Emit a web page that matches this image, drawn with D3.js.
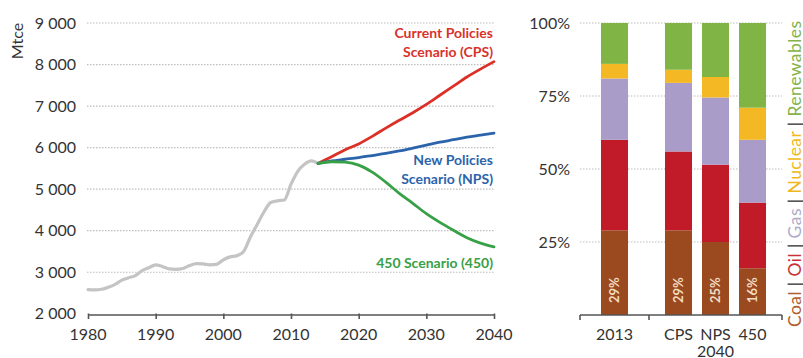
<!DOCTYPE html>
<html>
<head>
<meta charset="utf-8">
<script src="https://cdn.jsdelivr.net/npm/d3@7/dist/d3.min.js"></script>
<style>
  html, body { margin: 0; padding: 0; background: #fff; }
  svg { display: block; font-family: Lato, "Open Sans", sans-serif; }
</style>
</head>
<body>
<svg id="chart" width="803" height="358"></svg>
<script>
// ---- Coal demand (Mtce), history and scenarios ----
const histYears = [1980,1981,1982,1983,1984,1985,1986,1987,1988,1989,1990,1991,1992,1993,1994,1995,1996,1997,1998,1999,2000,2001,2002,2003,2004,2005,2006,2007,2008,2009,2010,2011,2012,2013,2014];
const histValues = [2580,2575,2590,2640,2710,2810,2870,2920,3040,3110,3180,3140,3080,3070,3090,3160,3210,3200,3180,3190,3300,3370,3400,3500,3850,4150,4450,4680,4720,4740,5120,5430,5600,5680,5620];

const projYears = [2014,2016,2018,2020,2022,2024,2026,2028,2030,2032,2034,2036,2038,2040];
const cpsValues = [5620,5780,5950,6090,6270,6470,6660,6840,7040,7260,7480,7700,7890,8070];
const npsValues = [5620,5680,5720,5760,5810,5860,5920,5990,6060,6130,6190,6250,6300,6350];
const s450Values = [5620,5660,5650,5580,5410,5170,4900,4660,4410,4200,4010,3830,3700,3610];

const yTicksLeft = [2000,3000,4000,5000,6000,7000,8000,9000];
const xTicksLeft = [1980,1990,2000,2010,2020,2030,2040];

// ---- Fuel shares of primary energy demand ----
const fuels = ["Coal","Oil","Gas","Nuclear","Renewables"];
const periods = ["2013","2040"];
const cases2013 = ["2013"];
const cases2040 = ["CPS","NPS","450"];
const coalShare = [0.29, 0.29, 0.25, 0.16];
const oilShare  = [0.31, 0.27, 0.265, 0.225];
const gasShare  = [0.21, 0.235, 0.23, 0.215];
const nucShare  = [0.05, 0.045, 0.07, 0.11];
const renShare  = [0.14, 0.16, 0.185, 0.29];
const yTicksRight = [0.25, 0.5, 0.75, 1];

const fuelColors = {Coal:"#9a4a1e", Oil:"#c11a28", Gas:"#a99cc8", Nuclear:"#f3b823", Renewables:"#80b545"};
const legendColors = {Coal:"#b0602e", Oil:"#c8303a", Gas:"#b2acc8", Nuclear:"#f0b820", Renewables:"#84b348"};

const svg = d3.select("#chart");
svg.append("rect").attr("width",803).attr("height",358).attr("fill","#fff");

const textCol = "#333";
const gridCol = "#bdbdbd";

// ================= Left: line chart =================
const x = d3.scaleLinear().domain([1980,2040]).range([88,494]);
const y = d3.scaleLinear().domain([2000,9000]).range([313.8,23]);

const gL = svg.append("g");

// dotted gridlines
gL.selectAll("line.grid").data(yTicksLeft.filter(d => d > 2000)).join("line")
  .attr("x1", 87).attr("x2", 494)
  .attr("y1", d => y(d)).attr("y2", d => y(d))
  .attr("stroke", gridCol).attr("stroke-width", 1.2)
  .attr("stroke-dasharray", "1.5,1.5");

// y tick labels
gL.selectAll("text.ytick").data(yTicksLeft).join("text")
  .attr("x", 76).attr("y", d => y(d) + 5.5)
  .attr("text-anchor", "end")
  .attr("font-size", 16).attr("fill", textCol)
  .text(d => d3.format(",")(d).replace(",", " "));

// unit label
gL.append("text")
  .attr("transform", "translate(23,41) rotate(-90)")
  .attr("text-anchor", "middle")
  .attr("font-size", 16).attr("fill", textCol)
  .text("Mtce");

// x axis
const xAxisL = d3.axisBottom(x).tickValues(xTicksLeft).tickSize(4).tickFormat("");
const axL = gL.append("g").attr("transform", "translate(0,315)").call(xAxisL);
axL.select(".domain").attr("stroke", "#555").attr("stroke-width", 1.6).attr("d", "M88,0H494");
axL.selectAll(".tick line").attr("stroke", "#555").attr("stroke-width", 1.6).attr("y1", -1.5);

gL.selectAll("text.xtick").data(xTicksLeft).join("text")
  .attr("x", d => x(d)).attr("y", 340)
  .attr("text-anchor", "middle")
  .attr("font-size", 16).attr("fill", textCol)
  .text(d => d);

const line = d3.line().x(d => x(d[0])).y(d => y(d[1])).curve(d3.curveMonotoneX);

gL.append("path")
  .attr("d", line(histYears.map((yr, i) => [yr, histValues[i]])))
  .attr("fill", "none").attr("stroke", "#c4c4c4").attr("stroke-width", 3.2)
  .attr("stroke-linejoin", "round").attr("stroke-linecap", "round");

const scenarios = [
  {name:"CPS", values:cpsValues, color:"#dc3027"},
  {name:"NPS", values:npsValues, color:"#2b64ab"},
  {name:"450", values:s450Values, color:"#38a046"}
];
gL.selectAll("path.scen").data(scenarios).join("path")
  .attr("d", s => line(projYears.map((yr, i) => [yr, s.values[i]])))
  .attr("fill", "none").attr("stroke", s => s.color).attr("stroke-width", 2.8)
  .attr("stroke-linecap", "round");

// scenario labels
const scenLabels = [
  {lines:["Current Policies","Scenario (CPS)"], color:"#d8332b", y0:38},
  {lines:["New Policies","Scenario (NPS)"], color:"#2b64ab", y0:165},
  {lines:["450 Scenario (450)"], color:"#38a046", y0:268}
];
scenLabels.forEach(l => {
  l.lines.forEach((t, i) => {
    gL.append("text")
      .attr("x", 493).attr("y", l.y0 + i * 19)
      .attr("text-anchor", "end")
      .attr("font-size", 14).attr("font-weight", "bold")
      .attr("fill", l.color)
      .text(t);
  });
});

// ================= Right: stacked share bars =================
const yR = d3.scaleLinear().domain([0,1]).range([315,23]);
const gR = svg.append("g");

gR.selectAll("line.grid").data(yTicksRight).join("line")
  .attr("x1", 580).attr("x2", 782)
  .attr("y1", d => yR(d)).attr("y2", d => yR(d))
  .attr("stroke", gridCol).attr("stroke-width", 1.2)
  .attr("stroke-dasharray", "1.5,1.5");

gR.selectAll("text.ytick").data(yTicksRight).join("text")
  .attr("x", 570).attr("y", d => yR(d) + 5.5)
  .attr("text-anchor", "end")
  .attr("font-size", 16).attr("fill", textCol)
  .text(d => d3.format(".0%")(d));

// period sections along the axis
const sectionEdges = [580, 649, 782];
const x2013 = d3.scaleBand().domain(cases2013).range([sectionEdges[0], sectionEdges[1]])
  .paddingInner(0.27).paddingOuter(0.567);
const x2040 = d3.scaleBand().domain(cases2040).range([sectionEdges[1], sectionEdges[2]])
  .paddingInner(0.27).paddingOuter(0.432);
const cases = cases2013.concat(cases2040);
const xPos = c => cases2013.includes(c) ? x2013(c) : x2040(c);
const bw = x2040.bandwidth();

const rows = cases.map((c, i) => ({
  case: c, Coal: coalShare[i], Oil: oilShare[i], Gas: gasShare[i], Nuclear: nucShare[i], Renewables: renShare[i]
}));
const stack = d3.stack().keys(fuels)(rows);

gR.selectAll("g.layer").data(stack).join("g")
  .attr("fill", d => fuelColors[d.key])
  .selectAll("rect").data(d => d).join("rect")
  .attr("x", d => xPos(d.data.case))
  .attr("width", bw)
  .attr("y", d => yR(Math.min(1, d[1])))
  .attr("height", d => yR(d[0]) - yR(Math.min(1, d[1])));

// coal share labels
gR.selectAll("text.coal").data(rows).join("text")
  .attr("transform", d => `translate(${xPos(d.case) + bw / 2 + 4.5},${yR(0.085)}) rotate(-90)`)
  .attr("text-anchor", "middle")
  .attr("font-size", 13).attr("font-weight", "bold")
  .attr("fill", "#f2dcc2")
  .text(d => d3.format(".0%")(d.Coal));

// bottom axis with section separators
gR.append("line").attr("x1", sectionEdges[0]).attr("x2", sectionEdges[2])
  .attr("y1", 315).attr("y2", 315).attr("stroke", "#555").attr("stroke-width", 1.6);
gR.selectAll("line.sep").data(sectionEdges).join("line")
  .attr("x1", d => d).attr("x2", d => d)
  .attr("y1", 315).attr("y2", 320).attr("stroke", "#555").attr("stroke-width", 1.6);

gR.selectAll("text.case").data(cases).join("text")
  .attr("x", d => xPos(d) + bw / 2).attr("y", 340)
  .attr("text-anchor", "middle")
  .attr("font-size", 16).attr("fill", textCol)
  .text(d => d);
gR.append("text")
  .attr("x", (x2040("CPS") + x2040("450") + bw) / 2).attr("y", 356.5)
  .attr("text-anchor", "middle")
  .attr("font-size", 16).attr("fill", textCol)
  .text(periods[1]);

// vertical legend
const leg = svg.append("text")
  .attr("transform", "translate(801,327) rotate(-90)")
  .attr("font-size", 17.5)
  .attr("textLength", 306).attr("lengthAdjust", "spacing");
fuels.forEach((f, i) => {
  if (i > 0) leg.append("tspan").attr("fill", "#333").text(" | ");
  leg.append("tspan").attr("fill", legendColors[f]).text(f);
});
</script>
</body>
</html>
